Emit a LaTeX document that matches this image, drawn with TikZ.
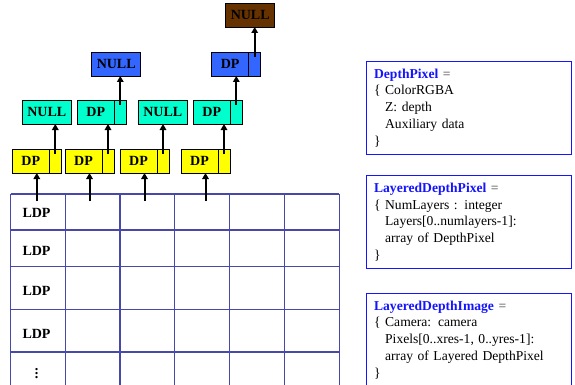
\documentclass[tikz,border=0pt]{standalone}
\usepackage{fontspec}
\setmainfont{Liberation Serif}
\usetikzlibrary{positioning, arrows.meta}
\definecolor{layerYellow}{RGB}{255, 255, 0}
\definecolor{layerCyan}{RGB}{0, 255, 204}
\definecolor{layerBlue}{RGB}{51, 102, 255}
\definecolor{layerBrown}{RGB}{102, 51, 0}
\definecolor{gridColor}{RGB}{72, 72, 170}
\definecolor{titleBlue}{RGB}{20, 20, 255}
\definecolor{eqGray}{RGB}{60, 60, 60}

\begin{document}
\begin{tikzpicture}[x=1pt, y=-1pt,
	dpcell/.style={draw, line width=0.9pt, outer sep=0pt, inner sep=0pt, minimum height=24pt, font=\bfseries\fontsize{14}{14}\selectfont},
	ptrcell/.style={dpcell, minimum width=12pt},
	link/.style={-{Triangle[width=6.5pt, length=6pt]}, line width=2pt},
	gridline/.style={draw=gridColor, line width=1.4pt},
	ldp/.style={font=\bfseries\fontsize{14}{14}\selectfont},
	infobox/.style={draw=titleBlue, line width=1.2pt, anchor=north west, inner xsep=7.5pt, inner ysep=7.5pt, text width=190pt, align=left, font=\fontsize{13.6}{16.7}\selectfont}]
	\useasboundingbox (0, 0) rectangle (575, 385);
	
	% Image grid of layered depth pixels
	\foreach \x in {10.7, 65.3, 120, 174.7, 229.3, 284.3, 339.3}
		\draw[gridline] (\x, 194) -- (\x, 392);
	\foreach \y in {194, 230, 266.7, 309.3, 352}
		\draw[gridline] (10.7, \y) -- (339.3, \y);
	\node[ldp] (ldp1) at (36.5, 213) {LDP};
	\node[ldp] (ldp2) at (36.5, 250.5) {LDP};
	\node[ldp] (ldp3) at (36.5, 290.5) {LDP};
	\node[ldp] (ldp4) at (36.5, 333.5) {LDP};
	\node[ldp] (ldpdots) at (36.5, 371) {$\vdots$};
	
	% First layer (yellow)
	\foreach \i/\x in {1/12.3, 2/65, 3/120, 4/181} {
		\node[dpcell, fill=layerYellow, minimum width=37pt, anchor=west] (y\i) at (\x, 161) {DP};
		\node[ptrcell, fill=layerYellow, right=0pt of y\i] (yp\i) {};
		\coordinate (g\i) at (\x + 24.5, 201);
	}
	
	% Second layer (cyan)
	\node[dpcell, fill=layerCyan, minimum width=49pt, anchor=west] (c1) at (22.3, 112) {NULL};
	\node[dpcell, fill=layerCyan, minimum width=37pt, anchor=west] (c2) at (77.3, 112) {DP};
	\node[ptrcell, fill=layerCyan, right=0pt of c2] (cp2) {};
	\node[dpcell, fill=layerCyan, minimum width=49pt, anchor=west] (c3) at (138.3, 112) {NULL};
	\node[dpcell, fill=layerCyan, minimum width=37pt, anchor=west] (c4) at (193.3, 112) {DP};
	\node[ptrcell, fill=layerCyan, right=0pt of c4] (cp4) {};
	
	% Third layer (blue)
	\node[dpcell, fill=layerBlue, minimum width=49pt, anchor=west] (b1) at (91.7, 64) {NULL};
	\node[dpcell, fill=layerBlue, minimum width=37pt, anchor=west] (b2) at (211.7, 64) {DP};
	\node[ptrcell, fill=layerBlue, right=0pt of b2] (bp2) {};
	
	% Fourth layer (brown)
	\node[dpcell, fill=layerBrown, minimum width=49pt, anchor=west] (n1) at (225.7, 15) {NULL};
	
	% Links
	\foreach \i in {1, 2, 3, 4}
		\draw[link] (g\i) -- (g\i |- y\i.south);
	\draw[link] ([yshift=-5pt]yp1.north) -- (yp1.north |- c1.south);
	\draw[link] ([yshift=-5pt]yp2.north) -- (yp2.north |- c2.south);
	\draw[link] ([yshift=-5pt]yp3.north) -- (yp3.north |- c3.south);
	\draw[link] ([yshift=-5pt]yp4.north) -- (yp4.north |- c4.south);
	\draw[link] ([yshift=-5pt]cp2.north) -- (cp2.north |- b1.south);
	\draw[link] ([yshift=-5pt]cp4.north) -- (cp4.north |- b2.south);
	\draw[link] ([yshift=-5pt]bp2.north) -- (bp2.north |- n1.south);
	
	% Type definitions
	\node[infobox] (dpinfo) at (366, 60.7) {\textcolor{titleBlue}{\textbf{DepthPixel}} \textcolor{eqGray}{=}\\
		\{ ColorRGBA\\
		\hphantom{\{ }Z: depth\\
		\hphantom{\{ }Auxiliary data\\
		\}};
	\node[infobox] (ldpinfo) at (366, 175) {\textcolor{titleBlue}{\textbf{LayeredDepthPixel}} \textcolor{eqGray}{=}\\
		\{ NumLayers : integer\\
		\hphantom{\{ }Layers[0..numlayers-1]:\\
		\hphantom{\{ }array of DepthPixel\\
		\}};
	\node[infobox] (ldiinfo) at (366, 292.7) {\textcolor{titleBlue}{\textbf{LayeredDepthImage}} \textcolor{eqGray}{=}\\
		\{ Camera: camera\\
		\hphantom{\{ }Pixels[0..xres-1, 0..yres-1]:\\
		\hphantom{\{ }array of Layered DepthPixel\\
		\}};
\end{tikzpicture}
\end{document}
